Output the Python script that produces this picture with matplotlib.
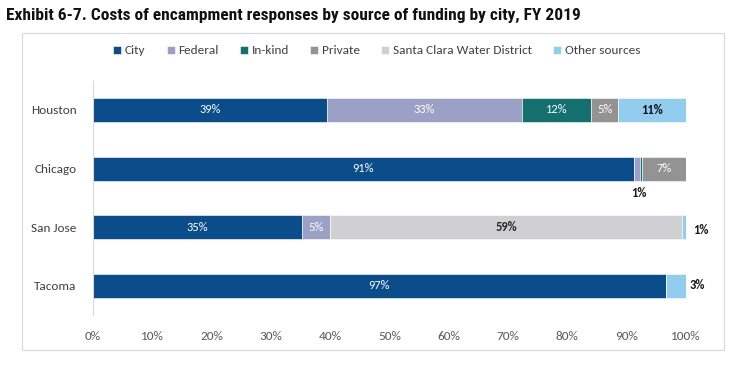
"""Costs of encampment responses by source of funding by city, FY 2019."""

import matplotlib
matplotlib.use("Agg")
import matplotlib.pyplot as plt
from matplotlib.patches import Rectangle
from matplotlib import font_manager

# ---------------------------------------------------------------------------
# Data
# ---------------------------------------------------------------------------
cities = ["Houston", "Chicago", "San Jose", "Tacoma"]
sources = ["City", "Federal", "In-kind", "Private",
           "Santa Clara Water District", "Other sources"]

city_share = [39.4, 91.2, 35.2, 96.6]
federal_share = [33.0, 1.0, 4.7, 0.0]
inkind_share = [11.6, 0.3, 0.0, 0.0]
private_share = [4.6, 7.5, 0.0, 0.0]
scwd_share = [0.0, 0.0, 59.5, 0.0]
other_share = [11.4, 0.0, 0.6, 3.4]

# printed labels (None = not shown inside bar)
city_labels = ["39%", "91%", "35%", "97%"]
federal_labels = ["33%", None, "5%", None]
inkind_labels = ["12%", None, None, None]
private_labels = ["5%", "7%", None, None]
scwd_labels = [None, None, "59%", None]
other_labels = ["11%", None, None, None]

tick_values = list(range(0, 101, 10))

COLORS = ["#0B4C8A", "#9BA1C6", "#13706E", "#939393", "#D0D0D2", "#92CDF0"]
LABEL_COLORS = ["white", "white", "white", "white", "#2a2a2a", "#111111"]
LABEL_WEIGHTS = ["normal", "normal", "normal", "normal", "semibold", "semibold"]


def pick_font(*names):
    have = {f.name for f in font_manager.fontManager.ttflist}
    for n in names:
        if n in have:
            return n
    return "DejaVu Sans"


BODY = pick_font("Carlito", "Open Sans", "Lato", "Liberation Sans")
TITLE = pick_font("Liberation Sans Narrow", "Roboto Condensed", "Liberation Sans")

# ---------------------------------------------------------------------------
# Figure
# ---------------------------------------------------------------------------
fig = plt.figure(figsize=(7.42, 3.67), dpi=100)
ax = fig.add_axes([93 / 742, 1 - 315.3 / 367, 593 / 742, 234.7 / 367])

# chart frame
fig.patches.append(Rectangle((22 / 742, 1 - 350 / 367), 702 / 742, 317 / 367,
                             transform=fig.transFigure, fill=False,
                             edgecolor="#d9d9d9", linewidth=0.8, zorder=0))

series = [city_share, federal_share, inkind_share, private_share,
          scwd_share, other_share]
labels = [city_labels, federal_labels, inkind_labels, private_labels,
          scwd_labels, other_labels]

ypos = list(range(len(cities)))
left = [0.0] * len(cities)
for name, vals, labs, col, lcol, lw in zip(sources, series, labels, COLORS,
                                           LABEL_COLORS, LABEL_WEIGHTS):
    ax.barh(ypos, vals, left=left, height=0.41, color=col, label=name,
            edgecolor="white", linewidth=0.4)
    for i, (v, lab) in enumerate(zip(vals, labs)):
        if lab:
            ax.text(left[i] + v / 2, i, lab, ha="center", va="center",
                    color=lcol, fontsize=9, family=BODY, fontweight=lw)
    left = [a + b for a, b in zip(left, vals)]

# outside labels
ax.text(left[1] - 7.5 - 0.5, 1 + 0.42, "1%", ha="center", va="center",
        fontsize=9, color="#1a1a1a", family=BODY, fontweight="semibold")
ax.text(101.2, 2 + 0.05, "1%", ha="left", va="center",
        fontsize=9, color="#1a1a1a", family=BODY, fontweight="semibold")
ax.text(100.6, 3 - 0.02, "3%", ha="left", va="center",
        fontsize=9, color="#1a1a1a", family=BODY, fontweight="semibold")

ax.set_xlim(0, 100)
ax.set_ylim(len(cities) - 0.5, -0.5)
ax.set_yticks(ypos)
ax.set_yticklabels(cities, fontsize=9.5, color="#404040", family=BODY)
ax.set_xticks(tick_values)
ax.set_xticklabels([f"{t}%" for t in tick_values], fontsize=9.5,
                   color="#595959", family=BODY)
ax.tick_params(axis="both", length=0)
ax.tick_params(axis="x", pad=11)
ax.tick_params(axis="y", pad=12)
for s in ["top", "right", "bottom"]:
    ax.spines[s].set_visible(False)
ax.spines["left"].set_color("#d9d9d9")
ax.spines["left"].set_linewidth(0.8)

leg = fig.legend(loc="center", bbox_to_anchor=(377 / 742, 1 - 51 / 367),
                 ncol=6, frameon=False, handlelength=0.6, handleheight=0.6,
                 handletextpad=0.3, columnspacing=1.6,
                 prop={"family": BODY, "size": 9.5})
for t in leg.get_texts():
    t.set_color("#404040")

fig.text(6 / 742, 1 - 15 / 367,
         "Exhibit 6-7. Costs of encampment responses by source of funding by city, FY 2019",
         fontsize=12.5, fontweight="bold", family=TITLE, va="center", ha="left",
         color="#111111")

fig.savefig("out.png", dpi=100)
